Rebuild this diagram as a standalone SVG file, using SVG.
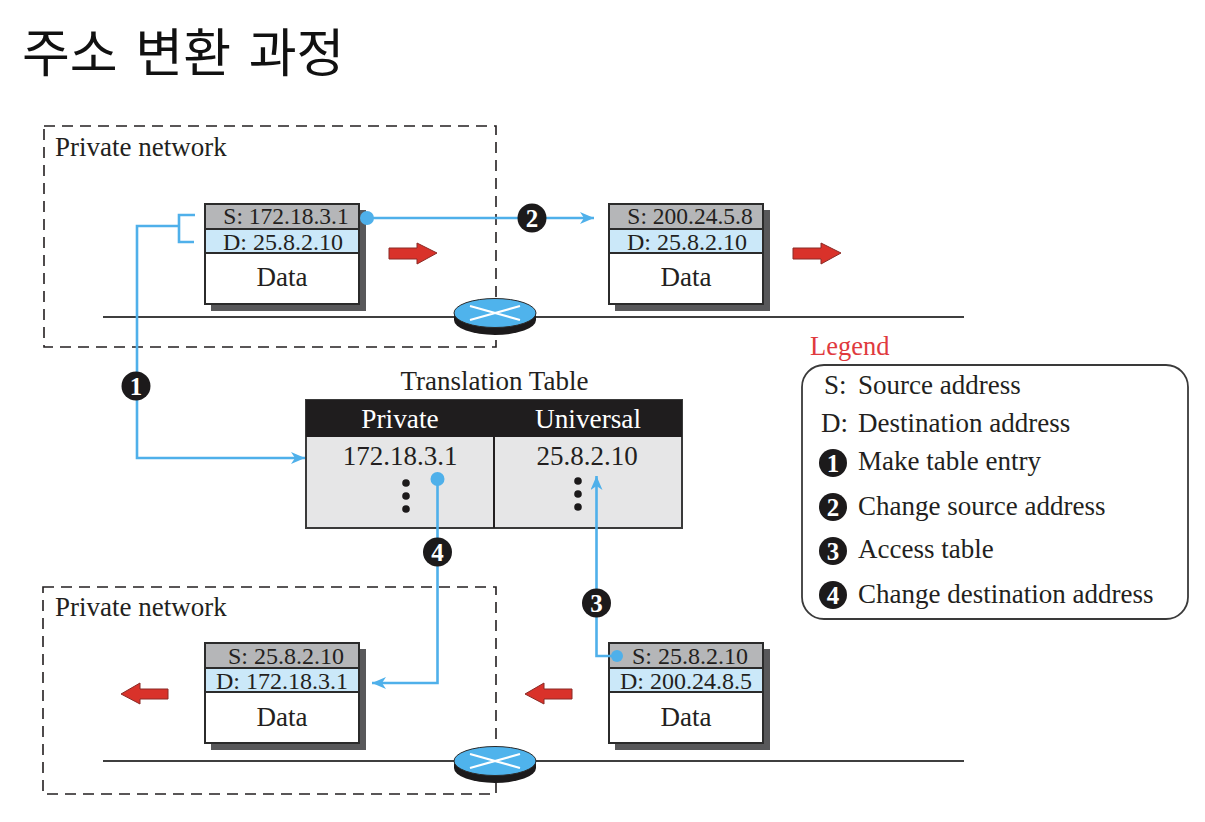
<svg xmlns="http://www.w3.org/2000/svg" width="1205" height="822" viewBox="0 0 1205 822">
<style>
text{font-family:"Liberation Serif","Times New Roman",serif;fill:#231f20}
.t{font-size:27px}
.p{font-size:24px;text-anchor:middle}
.s{font-size:23.500px}
.da{font-size:27px}
.m{text-anchor:middle}
.dash{fill:none;stroke:#231f20;stroke-width:1.600;stroke-dasharray:11 7}
.line{fill:none;stroke:#3f3f3f;stroke-width:1.800}
.c{fill:none;stroke:#4fb0ea;stroke-width:2.600}
.dot{fill:#4fb0ea}
.box{stroke:#2b2b2b;stroke-width:2}
.sh{fill:#58585a}
.arrow{fill:#d9322a;stroke:#8a2a26;stroke-width:1}
.bd{fill:#1c1a1b}
.bt{font-size:25px;font-weight:bold;text-anchor:middle;fill:#fff}
.h{font-size:27.300px;fill:#fff;text-anchor:middle}
</style>
<defs>
<marker id="ah" markerWidth="16" markerHeight="12" refX="14" refY="6" orient="auto" markerUnits="userSpaceOnUse"><path d="M0 0L14 6L0 12L4 6Z" fill="#4fb0ea"/></marker>
<g id="pkt">
<rect class="sh" x="6" y="6" width="155" height="101"/>
<rect x="0" y="0" width="154" height="100" fill="#fff" class="box"/>
<rect x="0" y="0" width="154" height="25" fill="#b5b6b8" class="box"/>
<rect x="0" y="25" width="154" height="24" fill="#cbe8f9" class="box"/>
</g>
<g id="rt">
<path d="M-41 0v7a41 15 0 0 0 82 0v-7z" fill="#1c1a1b"/>
<ellipse cx="0" cy="0" rx="41" ry="14.500" fill="#4fb3ec" stroke="#2b2b2b" stroke-width="1"/>
<path d="M-25 -7L25 7M-25 7L25 -7" stroke="#fff" stroke-width="2.200" fill="none"/>
</g>
</defs>
<rect width="1205" height="822" fill="#fff"/>
<text x="22" y="72" font-size="52" word-spacing="6" style="font-family:'Noto Sans CJK KR','Liberation Sans',sans-serif;fill:#111">주소 변환 과정</text>

<g id="net-top">
<path class="dash" d="M44 126H496V347H44Z"/>
<text class="t" x="55" y="156">Private network</text>
<path class="line" d="M103 317H964"/>
</g>
<g id="net-bottom">
<path class="dash" d="M43 587H496V794H43Z"/>
<text class="t" x="55" y="616">Private network</text>
<path class="line" d="M103 761H964"/>
</g>
<g id="router-top"><use href="#rt" x="495" y="313"/></g>
<g id="router-bottom"><use href="#rt" x="495" y="761"/></g>

<g id="packet-1"><use href="#pkt" x="205" y="204"/><text class="p s" x="286" y="224">S: 172.18.3.1</text><text class="p" x="283" y="250">D: 25.8.2.10</text><text class="p da" x="282" y="286">Data</text></g>
<g id="packet-2"><use href="#pkt" x="609" y="204"/><text class="p s" x="690" y="224">S: 200.24.5.8</text><text class="p" x="687" y="250">D: 25.8.2.10</text><text class="p da" x="686" y="286">Data</text></g>
<g id="packet-3"><use href="#pkt" x="205" y="643"/><text class="p" x="286" y="664">S: 25.8.2.10</text><text class="p" x="282" y="689">D: 172.18.3.1</text><text class="p da" x="282" y="726">Data</text></g>
<g id="packet-4"><use href="#pkt" x="609" y="643"/><text class="p" x="690" y="664">S: 25.8.2.10</text><text class="p" x="686" y="689">D: 200.24.8.5</text><text class="p da" x="686" y="726">Data</text></g>

<g id="direction-arrows">
<path class="arrow" d="M389 248H417V243L437 253L417 264V259H389Z"/>
<path class="arrow" d="M793 248H821V243L841 253L821 264V259H793Z"/>
<path class="arrow" d="M168 689H140V683L121 694L140 704V699H168Z"/>
<path class="arrow" d="M572 689H544V683L525 694L544 704V699H572Z"/>
</g>

<g id="table">
<text class="m" x="494.500" y="390" style="font-size:27px">Translation Table</text>
<rect x="306" y="400" width="376" height="128" fill="#e6e6e7" stroke="#3a3a3a" stroke-width="2"/>
<rect x="306" y="400" width="376" height="37" fill="#1f1d1e"/>
<path d="M494 437V528" stroke="#231f20" stroke-width="2"/>
<text class="h" x="400" y="428">Private</text>
<text class="h" x="588" y="428">Universal</text>
<text class="m" x="400" y="465" style="font-size:27px">172.18.3.1</text>
<text class="m" x="587" y="465" style="font-size:27px">25.8.2.10</text>
<g fill="#1c1a1b"><circle cx="406" cy="483" r="3.800"/><circle cx="406" cy="496" r="3.800"/><circle cx="406" cy="509" r="3.800"/><circle cx="578" cy="481" r="3.800"/><circle cx="578" cy="494" r="3.800"/><circle cx="578" cy="507" r="3.800"/></g>
</g>

<g id="connectors">
<path class="c" d="M195 215H179V242H194M179 226H137V458H305" marker-end="url(#ah)"/>
<path class="c" d="M367 218H594" marker-end="url(#ah)"/>
<circle class="dot" cx="367" cy="218" r="7"/>
<path class="c" d="M437.500 479V683H372" marker-end="url(#ah)"/>
<circle class="dot" cx="437.500" cy="479" r="7"/>
<path class="c" d="M617 656H596.500V476" marker-end="url(#ah)"/>
<circle class="dot" cx="617" cy="656" r="6"/>
</g>

<g id="badge-1"><circle class="bd" cx="136" cy="386" r="14.500"/><text class="bt" x="136" y="395">1</text></g>
<g id="badge-2"><circle class="bd" cx="532" cy="218" r="14.500"/><text class="bt" x="532" y="227">2</text></g>
<g id="badge-3"><circle class="bd" cx="596.500" cy="603" r="14.500"/><text class="bt" x="596.500" y="612">3</text></g>
<g id="badge-4"><circle class="bd" cx="437.500" cy="552" r="14.500"/><text class="bt" x="437.500" y="561">4</text></g>

<g id="legend">
<text x="810" y="355" style="font-size:26.500px;fill:#e03a3e">Legend</text>
<rect x="802" y="365" width="386" height="254" rx="22" fill="#fff" stroke="#3a3a3a" stroke-width="1.800"/>
<text class="t" x="824" y="394">S:</text><text class="t" x="858" y="394">Source address</text>
<text class="t" x="821" y="432">D:</text><text class="t" x="858" y="432">Destination address</text>
<circle class="bd" cx="833" cy="463" r="14"/><text class="bt" x="833" y="472">1</text><text class="t" x="858" y="470">Make table entry</text>
<circle class="bd" cx="833" cy="507" r="14"/><text class="bt" x="833" y="516">2</text><text class="t" x="858" y="515">Change source address</text>
<circle class="bd" cx="833" cy="551" r="14"/><text class="bt" x="833" y="560">3</text><text class="t" x="858" y="558">Access table</text>
<circle class="bd" cx="833" cy="595" r="14"/><text class="bt" x="833" y="604">4</text><text class="t" x="858" y="603">Change destination address</text>
</g>
</svg>
